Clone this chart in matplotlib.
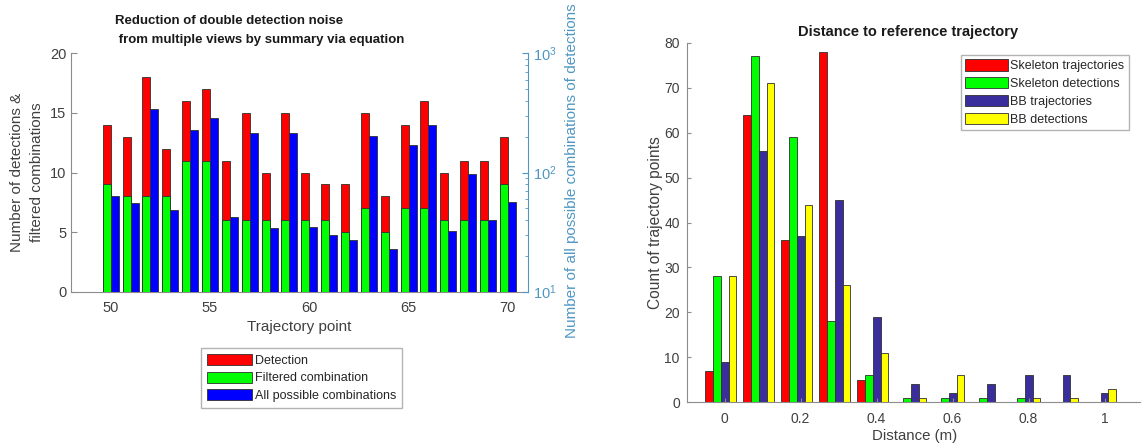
import matplotlib
matplotlib.use("Agg")
import matplotlib.pyplot as plt
import numpy as np
from matplotlib.patches import Patch

plt.rcParams['font.family'] = ['Liberation Sans', 'DejaVu Sans']

# ---------------- data: left chart ----------------
traj_points = [50, 51, 52, 53, 54, 55, 56, 57, 58, 59, 60,
               61, 62, 63, 64, 65, 66, 67, 68, 69, 70]
detections = [14, 13, 18, 12, 16, 17, 11, 15, 10, 15, 10,
              9, 9, 15, 8, 14, 16, 10, 11, 11, 13]
filtered = [9, 8, 8, 8, 11, 11, 6, 6, 6, 6, 6,
            6, 5, 7, 5, 7, 7, 6, 6, 6, 9]
all_combos = [63, 56, 343, 48, 228, 284, 42, 213, 34, 213, 35,
              30, 27, 201, 23, 171, 248, 32, 97, 40, 57]
left_xticks = [50, 55, 60, 65, 70]
left_yticks = [0, 5, 10, 15, 20]

# ---------------- data: right chart ----------------
bin_centers = [-0.01, 0.09, 0.19, 0.29, 0.39, 0.49, 0.59, 0.69, 0.79, 0.89, 0.99]
skel_traj = [7, 64, 36, 78, 5, 0, 0, 0, 0, 0, 0]
skel_det = [28, 77, 59, 18, 6, 1, 1, 1, 1, 0, 0]
bb_traj = [9, 56, 37, 45, 19, 4, 2, 4, 6, 6, 2]
bb_det = [28, 71, 44, 26, 11, 1, 6, 0, 1, 1, 3]
right_xticks = [0, 0.2, 0.4, 0.6, 0.8, 1.0]
right_xticklabels = ['0', '0.2', '0.4', '0.6', '0.8', '1']
right_yticks = [0, 10, 20, 30, 40, 50, 60, 70, 80]

W, H = 1141, 446
fig = plt.figure(figsize=(W / 100, H / 100), dpi=100)

def fx(px):
    return px / W

def fy(py):
    return 1 - py / H

SPINE = '#8c8c8c'
TXT = '#404040'
LOGC = '#4f97c2'

# ---------------- left chart ----------------
l, r, t, b = 71, 527.7, 53.3, 291.7
ax = fig.add_axes([fx(l), fy(b), fx(r - l), (b - t) / H])
x = np.array(traj_points, dtype=float)
ax.bar(x - 0.2, detections, width=0.4, color='#ff0000', edgecolor='#303030', linewidth=0.6, zorder=2)
ax.bar(x - 0.2, filtered, width=0.4, color='#00ff00', edgecolor='#303030', linewidth=0.6, zorder=3)
ax.set_xlim(48, 71)
ax.set_ylim(0, 20)
ax.set_xticks(left_xticks)
ax.set_yticks(left_yticks)
ax.tick_params(direction='in', length=4, width=0.8, colors=SPINE, labelcolor=TXT, labelsize=10.5)
ax.tick_params(axis='x', pad=7)
for s in ['top', 'right']:
    ax.spines[s].set_visible(False)
for s in ['left', 'bottom']:
    ax.spines[s].set_color(SPINE)
ax.set_xlabel('Trajectory point', fontsize=11, color=TXT, labelpad=3)
ax.set_ylabel('Number of detections &\nfiltered combinations', fontsize=11, color=TXT,
              labelpad=4, linespacing=1.6)

ax2 = ax.twinx()
ax2.set_yscale('log')
ax2.bar(x + 0.2, all_combos, width=0.4, color='#0000ff', edgecolor='#303030', linewidth=0.6, zorder=2)
ax2.set_ylim(10, 1000)
ax2.tick_params(which='both', direction='in', colors=LOGC, labelcolor=LOGC, labelsize=10.5)
ax2.tick_params(which='major', length=4)
ax2.tick_params(which='minor', length=2)
for s in ['top', 'left', 'bottom']:
    ax2.spines[s].set_visible(False)
ax2.spines['right'].set_color(LOGC)
fig.text(fx(572), fy(338), 'Number of all possible combinations of detections', fontsize=11,
         color=LOGC, rotation=90, ha='center', va='bottom')

fig.text(fx(115), fy(21), 'Reduction of double detection noise', fontsize=9.5,
         fontweight='bold', ha='left', va='center', color='#1a1a1a')
fig.text(fx(115), fy(40), ' from multiple views by summary via equation', fontsize=9.5,
         fontweight='bold', ha='left', va='center', color='#1a1a1a')

handles_l = [Patch(facecolor='#ff0000', edgecolor='#303030', linewidth=0.6),
             Patch(facecolor='#00ff00', edgecolor='#303030', linewidth=0.6),
             Patch(facecolor='#0000ff', edgecolor='#303030', linewidth=0.6)]
leg = fig.legend(handles_l, ['Detection', 'Filtered combination', 'All possible combinations'],
                 loc='upper left', bbox_to_anchor=(fx(201), fy(348)), fontsize=9,
                 frameon=True, fancybox=False, edgecolor='#a0a0a0', handlelength=3.6,
                 handleheight=1.0, handletextpad=0.2, labelspacing=0.35, borderpad=0.5,
                 borderaxespad=0)
for tx in leg.get_texts():
    tx.set_color('#262626')

# ---------------- right chart ----------------
l2, r2, t2, b2 = 686.7, 1142.5, 42.7, 402.3
axr = fig.add_axes([fx(l2), fy(b2), fx(r2 - l2), (b2 - t2) / H])
c = np.array(bin_centers)
bw = 0.0204
series = [(skel_traj, '#ff0000', 'Skeleton trajectories'),
          (skel_det, '#00ff00', 'Skeleton detections'),
          (bb_traj, '#3a2d9c', 'BB trajectories'),
          (bb_det, '#ffff00', 'BB detections')]
offs = [-1.5, -0.5, 0.5, 1.5]
for (vals, col, lab), o in zip(series, offs):
    axr.bar(c + o * bw, vals, width=bw, color=col, edgecolor='#303030', linewidth=0.6, label=lab)
axr.set_xlim(-0.1, 1.1)
axr.set_ylim(0, 80)
axr.set_xticks(right_xticks)
axr.set_xticklabels(right_xticklabels)
axr.set_yticks(right_yticks)
axr.tick_params(direction='in', length=3, width=0.8, colors=SPINE, labelcolor=TXT, labelsize=10)
axr.tick_params(axis='x', pad=7)
axr.tick_params(axis='y', pad=5)
for s in ['top', 'right']:
    axr.spines[s].set_visible(False)
for s in ['left', 'bottom']:
    axr.spines[s].set_color(SPINE)
axr.set_xlabel('Distance (m)', fontsize=10.8, color=TXT, labelpad=2)
axr.set_ylabel('Count of trajectory points', fontsize=11.2, color=TXT, labelpad=1)
fig.text(fx(908), fy(32), 'Distance to reference trajectory', fontsize=10.5,
         fontweight='bold', ha='center', va='center', color='#1a1a1a')
legr = axr.legend(loc='upper left', bbox_to_anchor=(fx(961), fy(55)), bbox_transform=fig.transFigure,
                  fontsize=9, frameon=True, fancybox=False, edgecolor='#a0a0a0', handlelength=3.4,
                  handleheight=1.0, handletextpad=0.2, labelspacing=0.4, borderpad=0.35,
                  borderaxespad=0)
for tx in legr.get_texts():
    tx.set_color('#262626')

fig.savefig('out.png', dpi=100)
